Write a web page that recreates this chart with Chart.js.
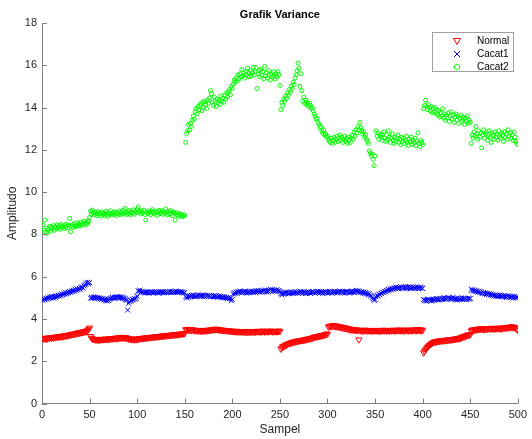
<!DOCTYPE html>
<html>
<head>
<meta charset="utf-8">
<script src="https://cdn.jsdelivr.net/npm/chart.js@4.4.0/dist/chart.umd.min.js"></script>
<style>
  body { margin: 0; background: #fff; }
  canvas { display: block; }
</style>
</head>
<body>
<canvas id="chart" width="532" height="439"></canvas>
<script>
// values, sample 1..500
const normal = [
  3.08, 3.05, 3.10, 3.07, 3.04, 3.09, 3.11, 3.08, 3.12, 3.10, 3.13, 3.09, 3.14, 3.12, 3.16, 3.13, 3.15, 3.18, 3.14, 3.17, 3.20, 3.16, 3.19, 3.22, 3.18,
  3.23, 3.20, 3.25, 3.22, 3.27, 3.24, 3.29, 3.26, 3.30, 3.28, 3.33, 3.30, 3.35, 3.32, 3.37, 3.34, 3.39, 3.36, 3.41, 3.38, 3.43, 3.40, 3.46, 3.52, 3.58,
  3.18, 3.10, 3.06, 3.03, 3.05, 3.01, 3.04, 3.00, 3.03, 2.99, 3.02, 3.05, 3.01, 3.04, 3.02, 3.06, 3.03, 3.05, 3.02, 3.07, 3.04, 3.06, 3.08, 3.05, 3.09,
  3.07, 3.10, 3.06, 3.11, 3.08, 3.12, 3.09, 3.13, 3.10, 3.14, 3.11, 3.09, 3.13, 3.10, 3.07, 3.05, 3.08, 3.04, 3.02, 3.06, 3.03, 3.01, 3.05, 3.02, 3.06,
  3.04, 3.08, 3.05, 3.09, 3.07, 3.10, 3.08, 3.11, 3.09, 3.12, 3.10, 3.13, 3.11, 3.14, 3.12, 3.15, 3.13, 3.16, 3.14, 3.17, 3.15, 3.18, 3.16, 3.19, 3.17,
  3.20, 3.18, 3.21, 3.19, 3.22, 3.20, 3.23, 3.21, 3.24, 3.22, 3.25, 3.23, 3.26, 3.24, 3.27, 3.25, 3.28, 3.26, 3.29, 3.27, 3.30, 3.28, 3.31, 3.29, 3.32,
  3.50, 3.47, 3.52, 3.48, 3.45, 3.49, 3.46, 3.50, 3.47, 3.44, 3.48, 3.45, 3.43, 3.47, 3.44, 3.46, 3.42, 3.45, 3.43, 3.47, 3.44, 3.46, 3.43, 3.48, 3.45,
  3.47, 3.49, 3.46, 3.50, 3.48, 3.52, 3.49, 3.53, 3.51, 3.48, 3.50, 3.47, 3.49, 3.46, 3.48, 3.45, 3.47, 3.44, 3.46, 3.43, 3.45, 3.42, 3.44, 3.41, 3.43,
  3.40, 3.42, 3.39, 3.43, 3.40, 3.38, 3.41, 3.39, 3.42, 3.38, 3.40, 3.37, 3.41, 3.39, 3.36, 3.40, 3.38, 3.41, 3.37, 3.39, 3.42, 3.38, 3.40, 3.37, 3.41,
  3.39, 3.43, 3.40, 3.38, 3.42, 3.39, 3.44, 3.41, 3.38, 3.42, 3.40, 3.43, 3.39, 3.41, 3.44, 3.40, 3.42, 3.38, 3.41, 3.43, 3.39, 3.42, 3.40, 3.44, 3.41,
  2.58, 2.64, 2.70, 2.68, 2.74, 2.78, 2.76, 2.81, 2.84, 2.82, 2.86, 2.89, 2.87, 2.91, 2.93, 2.90, 2.95, 2.93, 2.97, 2.95, 2.99, 2.97, 3.00, 2.98, 3.02,
  3.00, 3.04, 3.02, 3.06, 3.04, 3.08, 3.06, 3.10, 3.08, 3.12, 3.15, 3.13, 3.17, 3.15, 3.19, 3.17, 3.21, 3.19, 3.23, 3.21, 3.25, 3.23, 3.27, 3.30, 3.28,
  3.62, 3.66, 3.63, 3.68, 3.65, 3.70, 3.66, 3.64, 3.68, 3.63, 3.66, 3.61, 3.64, 3.59, 3.62, 3.57, 3.60, 3.55, 3.58, 3.53, 3.56, 3.51, 3.54, 3.49, 3.52,
  3.48, 3.51, 3.47, 3.50, 3.46, 3.49, 3.45, 3.02, 3.48, 3.44, 3.47, 3.43, 3.46, 3.44, 3.48, 3.45, 3.43, 3.47, 3.44, 3.46, 3.42, 3.45, 3.43, 3.47, 3.44,
  3.46, 3.43, 3.47, 3.44, 3.42, 3.46, 3.43, 3.45, 3.48, 3.44, 3.46, 3.43, 3.47, 3.45, 3.42, 3.46, 3.44, 3.48, 3.45, 3.43, 3.47, 3.44, 3.46, 3.49, 3.45,
  3.47, 3.44, 3.48, 3.45, 3.43, 3.47, 3.44, 3.49, 3.46, 3.43, 3.47, 3.45, 3.48, 3.44, 3.46, 3.50, 3.47, 3.44, 3.48, 3.45, 3.51, 3.47, 3.44, 3.49, 3.46,
  2.40, 2.48, 2.55, 2.60, 2.66, 2.70, 2.75, 2.79, 2.82, 2.86, 2.88, 2.91, 2.93, 2.90, 2.95, 2.93, 2.97, 2.94, 2.98, 2.95, 2.99, 2.96, 3.00, 2.97, 3.01,
  2.98, 3.02, 2.99, 3.03, 3.00, 3.04, 3.02, 3.06, 3.03, 3.07, 3.05, 3.09, 3.06, 3.11, 3.08, 3.14, 3.12, 3.18, 3.15, 3.21, 3.19, 3.24, 3.22, 3.27, 3.25,
  3.44, 3.48, 3.45, 3.50, 3.47, 3.51, 3.48, 3.53, 3.50, 3.54, 3.51, 3.55, 3.52, 3.49, 3.53, 3.50, 3.54, 3.51, 3.56, 3.52, 3.55, 3.53, 3.57, 3.54, 3.52,
  3.56, 3.53, 3.57, 3.54, 3.58, 3.55, 3.52, 3.57, 3.54, 3.59, 3.56, 3.60, 3.57, 3.61, 3.58, 3.62, 3.59, 3.64, 3.60, 3.63, 3.58, 3.61, 3.55, 3.50, 3.45
];

const cacat1 = [
  4.88, 4.95, 4.91, 4.98, 4.94, 5.01, 4.97, 5.04, 5.00, 5.07, 5.03, 4.99, 5.06, 5.02, 5.09, 5.05, 5.12, 5.08, 5.15, 5.11, 5.18, 5.14, 5.21, 5.17, 5.24,
  5.20, 5.27, 5.23, 5.30, 5.26, 5.33, 5.29, 5.36, 5.32, 5.39, 5.35, 5.42, 5.38, 5.45, 5.41, 5.48, 5.52, 5.47, 5.56, 5.60, 5.65, 5.70, 5.74, 5.68, 5.72,
  4.98, 5.02, 4.99, 5.04, 5.00, 5.03, 4.98, 5.01, 4.97, 5.00, 4.95, 4.98, 4.93, 4.96, 4.90, 4.94, 4.88, 4.85, 4.90, 4.87, 4.93, 4.96, 4.99, 5.02, 4.98,
  5.03, 5.00, 5.05, 5.01, 5.04, 4.99, 5.03, 5.00, 5.05, 4.97, 5.01, 4.96, 4.92, 4.88, 4.42, 4.74, 4.82, 4.88, 4.85, 4.93, 4.90, 4.96, 4.94, 5.00, 5.08,
  5.34, 5.30, 5.36, 5.27, 5.31, 5.25, 5.29, 5.23, 5.27, 5.24, 5.28, 5.22, 5.26, 5.29, 5.24, 5.27, 5.23, 5.28, 5.25, 5.30, 5.26, 5.22, 5.27, 5.24, 5.29,
  5.25, 5.28, 5.23, 5.27, 5.30, 5.25, 5.29, 5.26, 5.31, 5.27, 5.24, 5.29, 5.26, 5.30, 5.27, 5.32, 5.28, 5.25, 5.30, 5.26, 5.29, 5.24, 5.27, 5.22, 5.25,
  5.05, 4.99, 5.08, 5.03, 5.10, 5.06, 5.12, 5.07, 5.13, 5.09, 5.05, 5.11, 5.07, 5.14, 5.10, 5.06, 5.12, 5.08, 5.13, 5.09, 5.05, 5.11, 5.07, 5.12, 5.08,
  5.10, 5.06, 5.11, 5.07, 5.04, 5.09, 5.05, 5.10, 5.06, 5.03, 5.08, 5.04, 5.07, 5.02, 5.05, 5.01, 5.04, 4.99, 5.02, 4.97, 5.00, 4.95, 4.98, 4.86, 4.93,
  5.18, 5.24, 5.20, 5.27, 5.23, 5.30, 5.26, 5.32, 5.28, 5.24, 5.29, 5.25, 5.31, 5.27, 5.22, 5.28, 5.24, 5.30, 5.26, 5.32, 5.28, 5.25, 5.31, 5.27, 5.33,
  5.29, 5.35, 5.30, 5.26, 5.32, 5.28, 5.34, 5.30, 5.36, 5.31, 5.27, 5.33, 5.29, 5.35, 5.40, 5.34, 5.38, 5.32, 5.36, 5.30, 5.34, 5.38, 5.31, 5.35, 5.29,
  5.20, 5.14, 5.22, 5.18, 5.25, 5.21, 5.27, 5.23, 5.19, 5.26, 5.22, 5.28, 5.24, 5.20, 5.27, 5.23, 5.29, 5.25, 5.21, 5.28, 5.24, 5.30, 5.26, 5.22, 5.28,
  5.24, 5.20, 5.27, 5.23, 5.29, 5.25, 5.21, 5.28, 5.24, 5.30, 5.26, 5.22, 5.29, 5.25, 5.31, 5.27, 5.23, 5.29, 5.25, 5.21, 5.28, 5.24, 5.30, 5.26, 5.22,
  5.28, 5.24, 5.30, 5.26, 5.22, 5.29, 5.25, 5.31, 5.27, 5.23, 5.30, 5.26, 5.32, 5.28, 5.24, 5.30, 5.26, 5.22, 5.29, 5.25, 5.31, 5.27, 5.23, 5.30, 5.26,
  5.32, 5.28, 5.24, 5.30, 5.35, 5.29, 5.33, 5.27, 5.31, 5.25, 5.29, 5.23, 5.27, 5.21, 5.25, 5.18, 5.22, 5.15, 5.19, 5.12, 5.08, 5.02, 4.96, 4.88, 4.92,
  5.05, 5.12, 5.09, 5.17, 5.14, 5.22, 5.19, 5.27, 5.24, 5.31, 5.28, 5.35, 5.32, 5.39, 5.36, 5.42, 5.38, 5.45, 5.41, 5.48, 5.44, 5.51, 5.47, 5.43, 5.49,
  5.45, 5.52, 5.48, 5.44, 5.50, 5.46, 5.53, 5.49, 5.45, 5.51, 5.47, 5.43, 5.50, 5.46, 5.52, 5.48, 5.44, 5.51, 5.47, 5.43, 5.49, 5.45, 5.51, 5.47, 5.44,
  4.92, 4.86, 4.90, 4.84, 4.88, 4.93, 4.87, 4.91, 4.85, 4.89, 4.94, 4.88, 4.92, 4.97, 4.91, 4.95, 4.89, 4.93, 4.98, 4.92, 4.96, 5.00, 4.94, 4.98, 4.93,
  4.97, 5.01, 4.95, 4.99, 4.93, 4.97, 5.02, 4.96, 4.91, 4.95, 4.89, 4.94, 4.98, 4.92, 4.96, 5.00, 4.94, 4.98, 4.93, 4.97, 4.91, 4.95, 4.99, 4.94, 4.97,
  5.40, 5.34, 5.38, 5.31, 5.35, 5.29, 5.33, 5.27, 5.31, 5.25, 5.29, 5.23, 5.20, 5.25, 5.19, 5.23, 5.17, 5.21, 5.15, 5.19, 5.13, 5.17, 5.11, 5.15, 5.09,
  5.13, 5.07, 5.11, 5.05, 5.09, 5.14, 5.08, 5.12, 5.06, 5.10, 5.04, 5.08, 5.02, 5.06, 5.10, 5.04, 5.08, 5.01, 5.05, 4.99, 5.03, 5.07, 5.00, 5.04, 5.02
];

const cacat2 = [
  8.44, 8.20, 8.68, 8.12, 8.05, 8.30, 8.22, 8.38, 8.15, 8.34, 8.26, 8.42, 8.19, 8.36, 8.28, 8.45, 8.31, 8.40, 8.24, 8.47, 8.33, 8.39, 8.27, 8.44, 8.35,
  8.49, 8.30, 8.42, 8.75, 8.12, 8.38, 8.46, 8.33, 8.52, 8.40, 8.36, 8.55, 8.43, 8.48, 8.39, 8.58, 8.45, 8.51, 8.62, 8.44, 8.56, 8.49, 8.65, 8.60, 8.80,
  9.10, 8.95, 9.15, 9.02, 8.92, 9.05, 8.98, 8.88, 9.08, 8.96, 9.01, 8.86, 9.06, 8.93, 9.00, 8.90, 9.09, 8.97, 8.85, 9.03, 8.94, 9.12, 8.99, 8.91, 9.04,
  8.95, 9.07, 8.89, 9.02, 8.97, 9.11, 8.93, 9.05, 8.99, 9.14, 8.96, 9.23, 9.01, 8.94, 9.08, 8.98, 9.13, 8.92, 9.06, 9.00, 9.16, 8.95, 9.09, 9.03, 9.18,
  9.30, 9.05, 9.12, 8.97, 9.08, 9.02, 9.15, 8.94, 8.68, 9.06, 8.99, 9.11, 9.04, 8.93, 9.09, 9.17, 9.01, 8.96, 9.10, 9.03, 8.90, 9.07, 9.14, 8.98, 9.05,
  9.12, 8.95, 9.07, 9.00, 9.20, 9.04, 8.92, 9.09, 8.97, 9.13, 9.02, 8.89, 9.06, 8.99, 8.68, 9.03, 8.94, 8.88, 9.00, 8.86, 8.95, 8.90, 8.84, 8.92, 8.90,
  12.35, 12.78, 12.90, 13.20, 12.95, 13.25, 13.10, 13.40, 13.60, 13.45, 13.80, 13.95, 13.70, 14.05, 13.90, 14.10, 14.20, 13.85, 14.25, 14.00, 14.30, 14.15, 13.95, 14.35, 14.20,
  14.45, 14.80, 14.65, 14.25, 14.10, 14.50, 14.30, 14.05, 14.40, 14.20, 14.35, 14.15, 14.55, 14.30, 14.45, 14.25, 14.60, 14.40, 14.70, 14.50, 14.75, 14.85, 14.60, 15.00, 14.90,
  15.10, 15.30, 15.20, 15.40, 15.25, 15.55, 15.35, 15.60, 15.45, 15.80, 15.50, 15.65, 15.40, 15.70, 15.55, 15.85, 15.60, 15.45, 15.75, 15.50, 15.65, 15.90, 15.55, 15.70, 15.90,
  14.90, 15.60, 15.75, 15.45, 15.80, 15.55, 15.70, 15.35, 15.95, 15.50, 15.65, 15.40, 15.75, 15.55, 15.30, 15.60, 15.45, 15.70, 15.50, 15.35, 15.60, 15.45, 15.70, 15.55, 15.05,
  13.90, 14.25, 14.10, 14.40, 14.30, 14.55, 14.45, 14.70, 14.60, 14.85, 14.75, 15.00, 14.90, 15.20, 15.10, 15.40, 15.55, 15.75, 16.10, 15.85, 15.00, 15.60, 14.80, 14.30, 14.50,
  14.20, 14.35, 14.15, 14.25, 14.05, 14.20, 14.10, 13.95, 14.00, 13.85, 13.70, 13.60, 13.45, 13.50, 13.30, 13.20, 13.05, 13.10, 12.90, 12.80, 12.95, 12.70, 12.75, 12.60, 12.65,
  12.50, 12.40, 12.35, 12.55, 12.30, 12.45, 12.60, 12.35, 12.50, 12.65, 12.40, 12.55, 12.70, 12.45, 12.60, 12.35, 12.50, 12.65, 12.40, 12.55, 12.30, 12.60, 12.45, 12.35, 12.55,
  12.70, 12.50, 12.85, 12.65, 12.95, 12.80, 13.10, 12.95, 13.30, 13.05, 12.90, 12.75, 12.85, 12.60, 12.70, 12.50, 12.40, 12.30, 11.95, 11.85, 11.70, 11.80, 11.55, 11.25, 11.70,
  12.90, 12.65, 12.80, 12.50, 12.70, 12.60, 12.75, 12.45, 12.85, 12.55, 12.40, 12.70, 12.50, 12.90, 12.60, 12.35, 12.55, 12.75, 12.45, 12.30, 12.60, 12.40, 12.55, 12.70, 12.35,
  12.50, 12.25, 12.60, 12.40, 12.55, 12.30, 12.45, 12.65, 12.35, 12.20, 12.50, 12.40, 12.60, 12.25, 12.45, 12.35, 12.55, 12.20, 12.40, 12.80, 12.30, 12.15, 12.45, 12.35, 12.25,
  13.95, 14.10, 14.35, 14.05, 13.90, 14.15, 14.00, 13.85, 14.05, 13.75, 13.95, 13.80, 14.00, 13.70, 13.90, 13.65, 13.85, 13.55, 13.75, 13.60, 13.95, 13.50, 13.70, 13.40, 13.65,
  13.50, 13.75, 13.35, 13.60, 13.80, 13.45, 13.65, 13.30, 13.55, 13.70, 13.40, 13.60, 13.25, 13.50, 13.65, 13.35, 13.55, 13.45, 13.20, 13.50, 13.35, 13.60, 13.25, 13.40, 13.30,
  12.30, 12.70, 12.55, 12.85, 12.65, 13.10, 12.75, 12.50, 12.90, 12.60, 12.80, 12.10, 12.70, 12.95, 12.55, 12.75, 12.85, 12.45, 12.65, 12.90, 12.60, 12.35, 12.80, 12.70, 12.50,
  12.85, 12.60, 12.75, 12.45, 12.90, 12.65, 12.55, 12.80, 12.70, 12.40, 12.85, 12.60, 12.75, 12.50, 12.95, 12.65, 12.80, 12.55, 12.70, 12.45, 12.85, 12.60, 12.40, 12.30, 12.25
];

const seriesNames = ['Normal', 'Cacat1', 'Cacat2'];
const xTicks = [0, 50, 100, 150, 200, 250, 300, 350, 400, 450, 500];
const yTicks = [0, 2, 4, 6, 8, 10, 12, 14, 16, 18];

const axisColor = '#808080';
const textColor = '#262626';
const fontFamily = '"Liberation Sans", Arial, Helvetica, sans-serif';

const toPoints = (arr) => arr.map((v, i) => ({ x: i + 1, y: v }));

// title, axis labels, inward tick marks and the boxed legend
const matlabLook = {
  id: 'matlabLook',
  afterDraw(chart) {
    const { ctx, chartArea: a, scales } = chart;
    ctx.save();

    ctx.strokeStyle = axisColor;
    ctx.lineWidth = 1;
    ctx.beginPath();
    xTicks.forEach((v) => {
      const x = Math.round(scales.x.getPixelForValue(v)) + 0.5;
      ctx.moveTo(x, a.bottom);
      ctx.lineTo(x, a.bottom - 5);
    });
    yTicks.forEach((v) => {
      const y = Math.round(scales.y.getPixelForValue(v)) + 0.5;
      ctx.moveTo(a.left, y);
      ctx.lineTo(a.left + 5, y);
    });
    ctx.stroke();

    const cx = (a.left + a.right) / 2;
    ctx.textAlign = 'center';
    ctx.textBaseline = 'middle';
    ctx.fillStyle = '#000';
    ctx.font = 'bold 11px ' + fontFamily;
    ctx.fillText('Grafik Variance', cx, 15);

    ctx.fillStyle = textColor;
    ctx.font = '12px ' + fontFamily;
    ctx.fillText('Sampel', cx, 430);
    ctx.save();
    ctx.translate(13, (a.top + a.bottom) / 2);
    ctx.rotate(-Math.PI / 2);
    ctx.fillText('Amplitudo', 0, 0);
    ctx.restore();

    // legend
    const bx = 432.5, by = 32.5, bw = 81, bh = 39;
    ctx.fillStyle = '#fff';
    ctx.fillRect(bx, by, bw, bh);
    ctx.strokeStyle = '#a0a0a0';
    ctx.strokeRect(bx, by, bw, bh);

    const rows = [41, 54, 67];
    const mx = 457;
    ctx.lineWidth = 1;
    // Normal: down triangle
    ctx.strokeStyle = '#ff0000';
    ctx.beginPath();
    ctx.moveTo(mx - 3.5, rows[0] - 2.5);
    ctx.lineTo(mx + 3.5, rows[0] - 2.5);
    ctx.lineTo(mx, rows[0] + 3.5);
    ctx.closePath();
    ctx.stroke();
    // Cacat1: x
    ctx.strokeStyle = '#0000ff';
    ctx.beginPath();
    ctx.moveTo(mx - 3, rows[1] - 3);
    ctx.lineTo(mx + 3, rows[1] + 3);
    ctx.moveTo(mx + 3, rows[1] - 3);
    ctx.lineTo(mx - 3, rows[1] + 3);
    ctx.stroke();
    // Cacat2: small hexagon
    ctx.strokeStyle = '#00ff00';
    ctx.beginPath();
    for (let k = 0; k < 6; k++) {
      const ang = Math.PI / 6 + k * Math.PI / 3;
      const px = mx + 3 * Math.cos(ang);
      const py = rows[2] + 3 * Math.sin(ang);
      if (k === 0) ctx.moveTo(px, py); else ctx.lineTo(px, py);
    }
    ctx.closePath();
    ctx.stroke();

    ctx.fillStyle = '#000';
    ctx.font = '10px ' + fontFamily;
    ctx.textAlign = 'left';
    seriesNames.forEach((name, i) => ctx.fillText(name, 477, rows[i]));

    ctx.restore();
  }
};

const chartConfig = {
  type: 'scatter',
  data: {
    datasets: [
      {
        label: seriesNames[0],
        data: toPoints(normal),
        pointStyle: 'triangle',
        rotation: 180,
        radius: 3.5,
        borderColor: '#ff0000',
        backgroundColor: 'rgba(0,0,0,0)',
        borderWidth: 1,
      },
      {
        label: seriesNames[1],
        data: toPoints(cacat1),
        pointStyle: 'crossRot',
        radius: 3.5,
        borderColor: '#0000ff',
        backgroundColor: 'rgba(0,0,0,0)',
        borderWidth: 1,
      },
      {
        label: seriesNames[2],
        data: toPoints(cacat2),
        pointStyle: 'circle',
        radius: 2,
        borderColor: '#00ff00',
        backgroundColor: 'rgba(0,0,0,0)',
        borderWidth: 1,
      },
    ],
  },
  options: {
    responsive: false,
    animation: false,
    devicePixelRatio: 1,
    layout: { padding: { left: 0, right: 10.5, top: 23, bottom: 0 } },
    plugins: {
      legend: { display: false },
      title: { display: false },
      tooltip: { enabled: false },
    },
    scales: {
      x: {
        type: 'linear',
        min: 0,
        max: 500,
        afterBuildTicks: (s) => { s.ticks = xTicks.map((v) => ({ value: v })); },
        afterFit: (s) => { s.height = 35.5; },
        ticks: {
          autoSkip: false,
          maxRotation: 0,
          padding: 5,
          color: textColor,
          font: { family: fontFamily, size: 11 },
        },
        grid: { display: false, drawTicks: false },
        border: { display: true, color: axisColor, width: 1 },
      },
      y: {
        min: 0,
        max: 18,
        afterBuildTicks: (s) => { s.ticks = yTicks.map((v) => ({ value: v })); },
        afterFit: (s) => { s.width = 42; },
        ticks: {
          autoSkip: false,
          padding: 5,
          color: textColor,
          font: { family: fontFamily, size: 11 },
        },
        grid: { display: false, drawTicks: false },
        border: { display: true, color: axisColor, width: 1 },
      },
    },
  },
  plugins: [matlabLook],
};

const ctx = document.getElementById('chart').getContext('2d');
new Chart(ctx, chartConfig);
</script>
</body>
</html>
